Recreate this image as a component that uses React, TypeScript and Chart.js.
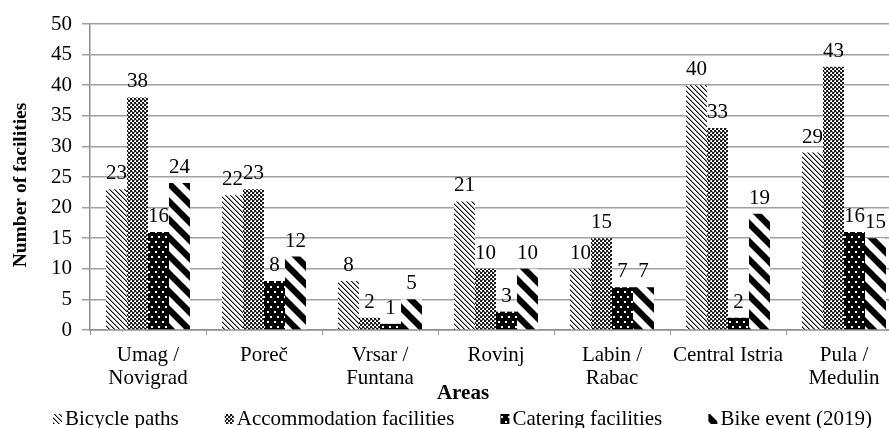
import React, { useEffect, useRef } from "react";
import { Chart, registerables } from "chart.js";

Chart.register(...registerables);

const categories: (string | string[])[] = [
  ["Umag /", "Novigrad"],
  "Poreč",
  ["Vrsar /", "Funtana"],
  "Rovinj",
  ["Labin /", "Rabac"],
  "Central Istria",
  ["Pula /", "Medulin"],
];
const seriesNames = [
  "Bicycle paths",
  "Accommodation facilities",
  "Catering facilities",
  "Bike event (2019)",
];
const bicyclePaths = [23, 22, 8, 21, 10, 40, 29];
const accommodationFacilities = [38, 23, 2, 10, 15, 33, 43];
const cateringFacilities = [16, 8, 1, 3, 7, 2, 16];
const bikeEvent2019 = [24, 12, 5, 10, 7, 19, 15];
const yMin = 0;
const yMax = 50;
const yStep = 5;
const xTitle = "Areas";
const yTitle = "Number of facilities";

const FONT = '"Liberation Serif", "Times New Roman", serif';

function makeTile(kind: number): HTMLCanvasElement {
  const c = document.createElement("canvas");
  let w = 8,
    h = 8;
  if (kind === 0) { w = 5; h = 5; }
  if (kind === 1) { w = 4; h = 4; }
  if (kind === 2) { w = 7; h = 10; }
  if (kind === 3) { w = 18; h = 18; }
  c.width = w;
  c.height = h;
  const g = c.getContext("2d")!;
  const px = (x: number, y: number, col: string) => {
    g.fillStyle = col;
    g.fillRect(x, y, 1, 1);
  };
  if (kind === 0) {
    g.fillStyle = "#fff";
    g.fillRect(0, 0, w, h);
    for (let y = 0; y < h; y++)
      for (let x = 0; x < w; x++) {
        const d = (((x - y) % 5) + 5) % 5;
        if (d === 0) px(x, y, "#000");
        else if (d === 1) px(x, y, "#9a9a9a");
      }
  } else if (kind === 1) {
    g.fillStyle = "#fff";
    g.fillRect(0, 0, w, h);
    g.fillStyle = "#1a1a1a";
    g.fillRect(0, 0, 2, 2);
    g.fillRect(2, 2, 2, 2);
    px(2, 0, "#8a8a8a");
    px(0, 3, "#8a8a8a");
  } else if (kind === 2) {
    g.fillStyle = "#000";
    g.fillRect(0, 0, w, h);
    g.fillStyle = "#fff";
    g.fillRect(1, 1, 2, 2);
    g.fillRect(4, 6, 2, 2);
  } else {
    g.fillStyle = "#fff";
    g.fillRect(0, 0, w, h);
    for (let y = 0; y < h; y++)
      for (let x = 0; x < w; x++) {
        const d = (((x - y) % 18) + 18) % 18;
        if (d < 8) px(x, y, "#000");
        else if (d === 8 || d === 17) px(x, y, "#888");
      }
  }
  return c;
}

export default function App() {
  const ref = useRef<HTMLCanvasElement | null>(null);

  useEffect(() => {
    document.body.style.margin = "0";
    const canvas = ref.current!;
    const ctx0 = canvas.getContext("2d")!;
    const patterns = [0, 1, 2, 3].map(
      (k) => ctx0.createPattern(makeTile(k), "repeat") as CanvasPattern
    );
    const values = [bicyclePaths, accommodationFacilities, cateringFacilities, bikeEvent2019];

    const overlay = {
      id: "overlay",
      afterDatasetsDraw(chart: any) {
        const ctx = chart.ctx as CanvasRenderingContext2D;
        ctx.save();
        ctx.font = `21px ${FONT}`;
        ctx.fillStyle = "#000";
        ctx.textAlign = "center";
        ctx.textBaseline = "alphabetic";
        chart.data.datasets.forEach((ds: any, i: number) => {
          const meta = chart.getDatasetMeta(i);
          meta.data.forEach((bar: any, j: number) => {
            ctx.fillText(String(ds.data[j]), bar.x, bar.y - 10);
          });
        });
        ctx.restore();
      },
      afterDraw(chart: any) {
        const ctx = chart.ctx as CanvasRenderingContext2D;
        ctx.save();
        ctx.fillStyle = "#000";
        ctx.font = `bold 21px ${FONT}`;
        ctx.textAlign = "center";
        ctx.textBaseline = "middle";
        ctx.fillText(xTitle, 463, 394);
        ctx.save();
        ctx.translate(21, 185);
        ctx.rotate(-Math.PI / 2);
        ctx.font = `bold 19.5px ${FONT}`;
        ctx.fillText(yTitle, 0, 0);
        ctx.restore();
        ctx.font = `21px ${FONT}`;
        ctx.textAlign = "left";
        const sw = 9, gapS = 3;
        const widths = seriesNames.map((n) => sw + gapS + ctx.measureText(n).width);
        const startX = 53, endX = 872;
        const total = widths.reduce((a, b) => a + b, 0);
        const gap = (endX - startX - total) / (seriesNames.length - 1);
        let x = startX;
        seriesNames.forEach((n, i) => {
          ctx.fillStyle = chart.data.datasets[i].backgroundColor;
          ctx.fillRect(x, 414, sw, 10);
          ctx.fillStyle = "#000";
          ctx.fillText(n, x + sw + gapS, 419);
          x += widths[i] + gap;
        });
        ctx.restore();
      },
    };

    const chart = new Chart(canvas, {
      type: "bar",
      data: {
        labels: categories as any,
        datasets: seriesNames.map((name, i) => ({
          label: name,
          data: values[i],
          backgroundColor: patterns[i] as any,
          borderWidth: 0,
          categoryPercentage: 0.724,
          barPercentage: 1,
        })),
      },
      options: {
        responsive: false,
        maintainAspectRatio: false,
        devicePixelRatio: 1,
        animation: false,
        layout: { padding: { top: 24, left: 0, right: 3, bottom: 0 } },
        plugins: {
          legend: { display: false },
          tooltip: { enabled: false },
          title: { display: false },
        },
        scales: {
          x: {
            offset: true,
            afterFit: (s: any) => { s.height = 98; },
            grid: {
              offset: true,
              drawOnChartArea: false,
              drawTicks: true,
              tickLength: 5,
              color: "#999",
            },
            border: { display: true, color: "#8c8c8c", width: 1.5 },
            ticks: {
              autoSkip: false,
              maxRotation: 0,
              minRotation: 0,
              padding: 8.5,
              color: "#000",
              font: { family: FONT, size: 21, lineHeight: 1.1 },
            },
          },
          y: {
            min: yMin,
            max: yMax,
            afterFit: (s: any) => { s.width = 90; },
            grid: { color: "#a0a0a0", lineWidth: 1.5, tickLength: 8 },
            border: { display: true, color: "#8c8c8c", width: 1.5 },
            ticks: {
              stepSize: yStep,
              padding: 10,
              color: "#000",
              font: { family: FONT, size: 21 },
            },
          },
        },
      },
      plugins: [overlay],
    });
    return () => chart.destroy();
  }, []);

  return (
    <div
      style={{
        position: "absolute",
        left: 0,
        top: 0,
        width: 889,
        height: 428,
        overflow: "hidden",
        background: "#fff",
      }}
    >
      <canvas ref={ref} width={905} height={428} style={{ display: "block" }} />
    </div>
  );
}
